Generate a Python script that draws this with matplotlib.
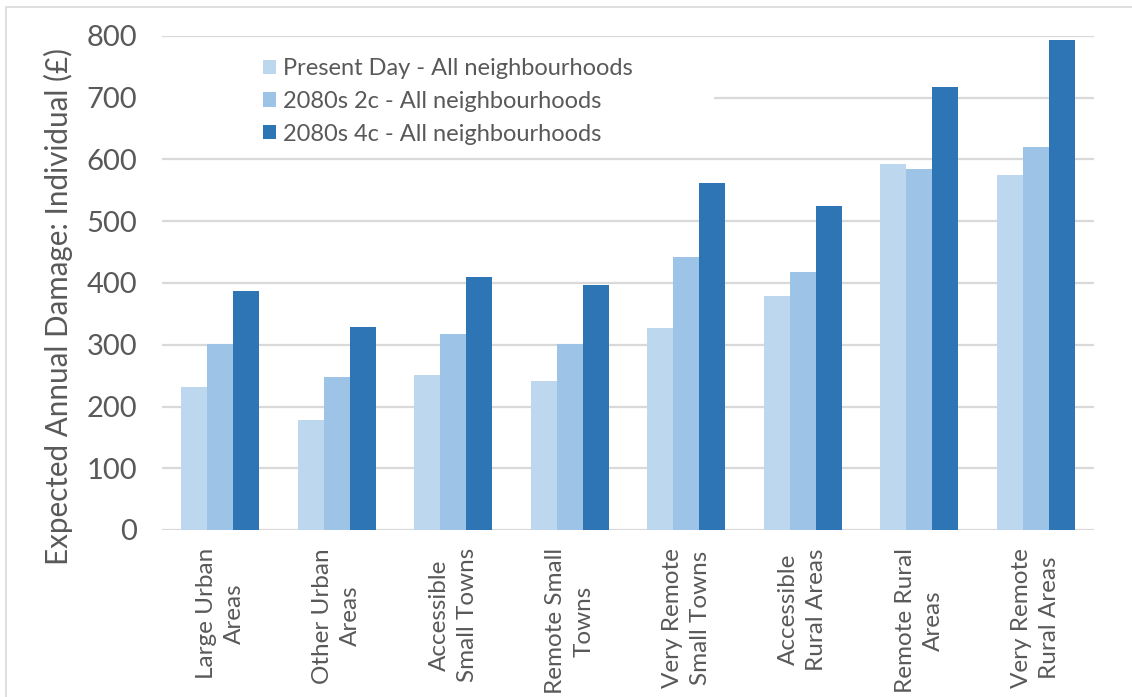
import numpy as np
import matplotlib
matplotlib.use("Agg")
import matplotlib.pyplot as plt
from matplotlib.patches import Rectangle

categories = ["Large Urban\nAreas", "Other Urban\nAreas", "Accessible\nSmall Towns",
              "Remote Small\nTowns", "Very Remote\nSmall Towns", "Accessible\nRural Areas",
              "Remote Rural\nAreas", "Very Remote\nRural Areas"]
series_names = ["Present Day - All neighbourhoods", "2080s 2c - All neighbourhoods",
                "2080s 4c - All neighbourhoods"]
present_day = [232, 178, 251, 241, 327, 379, 592, 575]
c2_2080s = [301, 248, 317, 301, 442, 418, 585, 621]
c4_2080s = [387, 329, 410, 397, 562, 525, 718, 793]
colors = ["#BDD7EE", "#9DC3E6", "#2E75B6"]
yticks = [0, 100, 200, 300, 400, 500, 600, 700, 800]

plt.rcParams['font.family'] = ['Lato', 'DejaVu Sans']
text_col = "#595959"
grid_col = "#D9D9D9"

W, H = 1132, 697
fig = plt.figure(figsize=(W / 100, H / 100), dpi=100)
fig.patch.set_facecolor("white")

# outer chart border (cropped at right/bottom in the original)
fig.patches.append(Rectangle((6 / W, -0.1), 1.2, 1.1 - 7 / H, transform=fig.transFigure,
                             fill=False, edgecolor=grid_col, linewidth=1.2))

ax = fig.add_axes([162 / W, 1 - 530 / H, (1094 - 162) / W, (530 - 36) / H])

x = np.arange(len(categories))
bw = 0.222
for i, (vals, name) in enumerate(zip([present_day, c2_2080s, c4_2080s], series_names)):
    ax.bar(x + (i - 1) * bw, vals, bw, color=colors[i], label=name, zorder=2)

ax.set_xlim(-0.5, len(categories) - 0.5)
ax.set_ylim(0, 800)
ax.set_yticks(yticks)
ax.set_yticklabels([str(v) for v in yticks])
for v in yticks:
    ax.axhline(v, color=grid_col, linewidth=1.6, zorder=0.5)

for s in ax.spines.values():
    s.set_visible(False)
ax.tick_params(axis="y", length=0, pad=18, labelsize=21, labelcolor=text_col)
ax.tick_params(axis="x", length=0, pad=13, labelcolor=text_col)
ax.set_xticks(x)
ax.set_xticklabels(categories, rotation=90, ha="center", va="top",
                   multialignment="center", fontsize=17.5, linespacing=1.4)

ax.set_ylabel("Expected Annual Damage: Individual (£)", fontsize=21.3, color=text_col)
ax.yaxis.set_label_coords(-0.096, 0.452)

# white legend area hides part of the 700 gridline
ax.add_patch(Rectangle((0, 0.77), 0.592, 0.2, transform=ax.transAxes,
                       facecolor="white", edgecolor="none", zorder=1))

leg = ax.legend(loc="upper left", bbox_to_anchor=(263 / W, 1 - 58 / H),
                bbox_transform=fig.transFigure, frameon=False, fontsize=17,
                handlelength=0.55, handleheight=0.55, handletextpad=0.3,
                labelspacing=0.5, borderpad=0, borderaxespad=0)
for t in leg.get_texts():
    t.set_color(text_col)

fig.savefig("out.png", dpi=100)
